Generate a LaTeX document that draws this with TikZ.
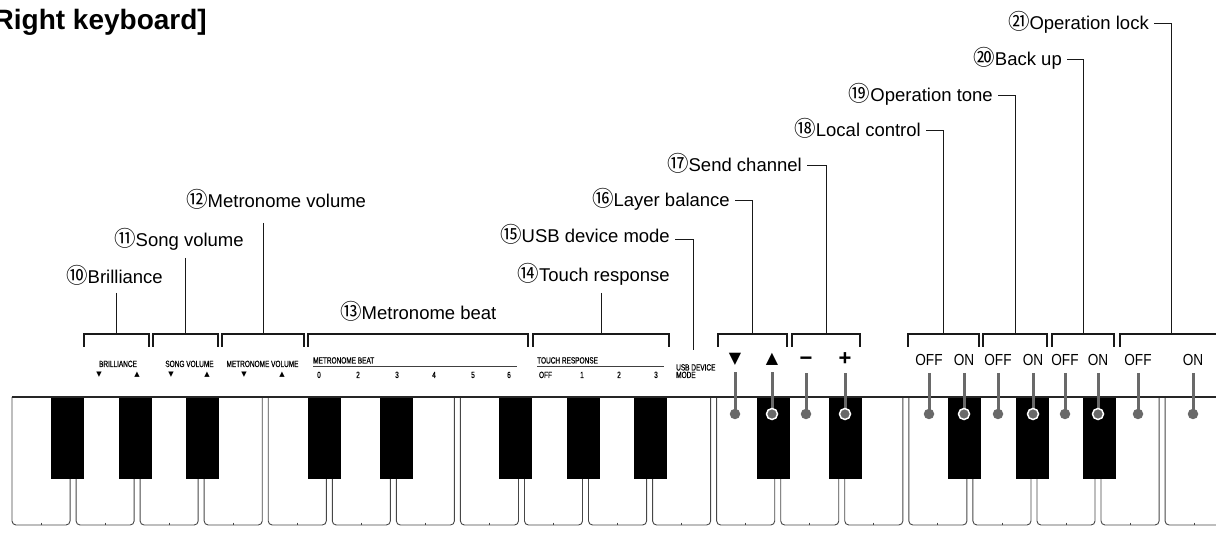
\documentclass[tikz,border=0pt]{standalone}
\usepackage{fontspec}
\setmainfont{Liberation Sans}
\newfontfamily\cjkf{Noto Sans CJK JP}
\newcommand\circnum[1]{{\cjkf\fontsize{21.5}{22}\selectfont #1}}
\newfontfamily\narrowf[FakeStretch=0.72,FakeBold=0.6]{Liberation Sans}
\newfontfamily\onofff[FakeStretch=0.85]{Liberation Sans}
\newfontfamily\symf{DejaVu Sans}
\usetikzlibrary{calc}
\definecolor{pingray}{RGB}{105,105,105}
\definecolor{keyline}{RGB}{70,70,70}
\begin{document}
\begin{tikzpicture}[x=1pt,y=-1pt,
  lbl/.style={inner sep=0pt, font=\fontsize{18.5}{20}\selectfont},
  conn/.style={draw=black!90, line width=1pt},
  brk/.style={draw=black!90, line width=1.2pt},
  small/.style={inner sep=0pt, font=\narrowf\fontsize{9}{9}\selectfont},
  smalltri/.style={inner sep=0pt, font=\symf\fontsize{7}{7}\selectfont},
  bigsym/.style={inner sep=0pt, font=\symf\fontsize{16}{16}\selectfont},
  pmsym/.style={inner sep=0pt, font=\bfseries\fontsize{22}{22}\selectfont},
  onoff/.style={inner sep=0pt, font=\onofff\fontsize{16}{16}\selectfont},
  uline/.style={draw=black!75, line width=0.9pt},
  wkey/.style={draw=keyline, line width=0.9pt, rounded corners=4pt},
  bkey/.style={fill=black},
  topline/.style={draw=black!85, line width=1.3pt},
  pinline/.style={draw=pingray, line width=3pt, shorten <=7pt},
  dotw/.style={circle, fill=pingray, minimum size=10.5pt, inner sep=0pt},
  dotb/.style={circle, fill=pingray, draw=white, line width=1.5pt, minimum size=11pt, inner sep=0pt}
]
\useasboundingbox (0,0) rectangle (1216,534);

% ---------- title ----------
\node[anchor=base east, inner sep=0pt, font=\bfseries\fontsize{28}{30}\selectfont] (title) at (207,30) {[Right keyboard]};

% ---------- keyboard ----------
\foreach \i in {0,...,18} {
  \pgfmathsetmacro\xl{\i==0 ? 12 : 9+64.06*\i+3}
  \pgfmathsetmacro\xr{9+64.06*(\i+1)-3}
  \draw[wkey] (\xl,397) -- (\xl,525) -- (\xr,525) -- (\xr,397);
  \draw[draw=keyline, line width=0.8pt] ({(\xl+\xr)/2},522.5) -- ++(0,2.5);
}
\foreach \g in {0,7,14} \foreach \o in {42,110,177}
  \fill[bkey] ({9+64.06*\g+\o},397) rectangle ++(33,82);
\foreach \g in {4,11} \foreach \o in {43,115}
  \fill[bkey] ({9+64.06*\g+\o},397) rectangle ++(33,82);
\draw[topline] (12,397) -- (1216,397);

% ---------- brackets ----------
\foreach \l/\r/\n in {84/149/10, 153/218/11, 222/304/12, 308/528/13, 533/669/14,
                      718/787/16, 792/860/17, 908/979/18, 983/1047/19, 1052/1114/20, 1120/1222/21} {
  \draw[brk] (\l,347) -- (\l,334) -- (\r,334) -- (\r,347);
  \coordinate (b\n) at ({(\l+\r)/2},334);
}
\coordinate (e15) at (693,350);

% ---------- labels ----------
\node[lbl, anchor=base west] (l10) at (66,284) {\circnum{⑩}Brilliance};
\node[lbl, anchor=base west] (l11) at (114,247) {\circnum{⑪}Song volume};
\node[lbl, anchor=base west] (l12) at (186,208) {\circnum{⑫}Metronome volume};
\node[lbl, anchor=base west] (l13) at (340,320) {\circnum{⑬}Metronome beat};
\node[lbl, anchor=base east] (l14) at (670,282) {\circnum{⑭}Touch response};
\node[lbl, anchor=base east] (l15) at (670,243) {\circnum{⑮}USB device mode};
\node[lbl, anchor=base east] (l16) at (730,207) {\circnum{⑯}Layer balance};
\node[lbl, anchor=base east] (l17) at (802,172) {\circnum{⑰}Send channel};
\node[lbl, anchor=base east] (l18) at (921,136.5) {\circnum{⑱}Local control};
\node[lbl, anchor=base east] (l19) at (993,101.5) {\circnum{⑲}Operation tone};
\node[lbl, anchor=base east] (l20) at (1062,65.5) {\circnum{⑳}Back up};
\node[lbl, anchor=base east] (l21) at (1149,29.5) {\circnum{㉑}Operation lock};

% ---------- label connectors ----------
\draw[conn] ($(l10.base -| b10)+(0,9)$) -- (b10);
\draw[conn] ($(l11.base -| b11)+(0,11)$) -- (b11);
\draw[conn] ($(l12.base -| b12)+(0,15)$) -- (b12);
\draw[conn] ($(l14.base -| b14)+(0,11)$) -- (b14);
\draw[conn] ($(l15.base east)+(5,-3)$) -| (e15);
\draw[conn] ($(l16.base east)+(5,-6)$) -| (b16);
\draw[conn] ($(l17.base east)+(5,-6)$) -| (b17);
\draw[conn] ($(l18.base east)+(5,-6)$) -| (b18);
\draw[conn] ($(l19.base east)+(5,-6)$) -| (b19);
\draw[conn] ($(l20.base east)+(5,-6)$) -| (b20);
\draw[conn] ($(l21.base east)+(5,-6)$) -| (b21);

% ---------- panel printing ----------
\node[small, anchor=base] (sbri) at (118,367) {BRILLIANCE};
\node[small, anchor=base] (ssong) at (189.5,367) {SONG VOLUME};
\node[small, anchor=base] (smetv) at (262.5,367) {METRONOME VOLUME};
\foreach \x/\t [count=\k] in {99/▼,137/▲,171/▼,207/▲,244/▼,282/▲}
  \node[smalltri] (tri\k) at (\x,375) {\t};
\node[small, anchor=base west] (sbeat) at (313,363.5) {METRONOME BEAT};
\draw[uline] (313,366.3) -- (517,366.3);
\node[small, anchor=base west] (stouch) at (537,363.5) {TOUCH RESPONSE};
\draw[uline] (537,366.3) -- (664,366.3);
\foreach \x/\t [count=\k] in {319/0,358/2,397/3,434/4,473/5,509/6,545.5/OFF,582/1,619/2,656/3}
  \node[small, anchor=base] (num\k) at (\x,378) {\t};
\node[small, anchor=base west] (susb1) at (676,370.5) {USB DEVICE};
\node[small, anchor=base west] (susb2) at (676,378) {MODE};

% ---------- pins ----------
\node[bigsym] (k1) at (735,359) {▼};
\node[bigsym] (k2) at (772,359) {▲};
\node[pmsym, anchor=base] (k3) at (806,366) {−};
\node[pmsym, anchor=base] (k4) at (845,366) {+};
\foreach \x/\t [count=\k from 5] in {929/OFF,964/ON,998/OFF,1033/ON,1065/OFF,1098/ON,1138/OFF,1193/ON}
  \node[onoff, anchor=base] (k\k) at (\x,365.5) {\t};

\foreach \k/\x/\s in {1/735/dotw, 2/772/dotb, 3/806/dotw, 4/845/dotb, 5/929/dotw, 6/964/dotb,
                       7/998/dotw, 8/1033/dotb, 9/1065/dotw, 10/1098/dotb, 11/1138/dotw, 12/1193/dotw} {
  \coordinate (pc\k) at (\x,414);
  \draw[pinline] (k\k.south -| pc\k) -- (pc\k);
  \node[\s] (d\k) at (pc\k) {};
}
\end{tikzpicture}
\end{document}
